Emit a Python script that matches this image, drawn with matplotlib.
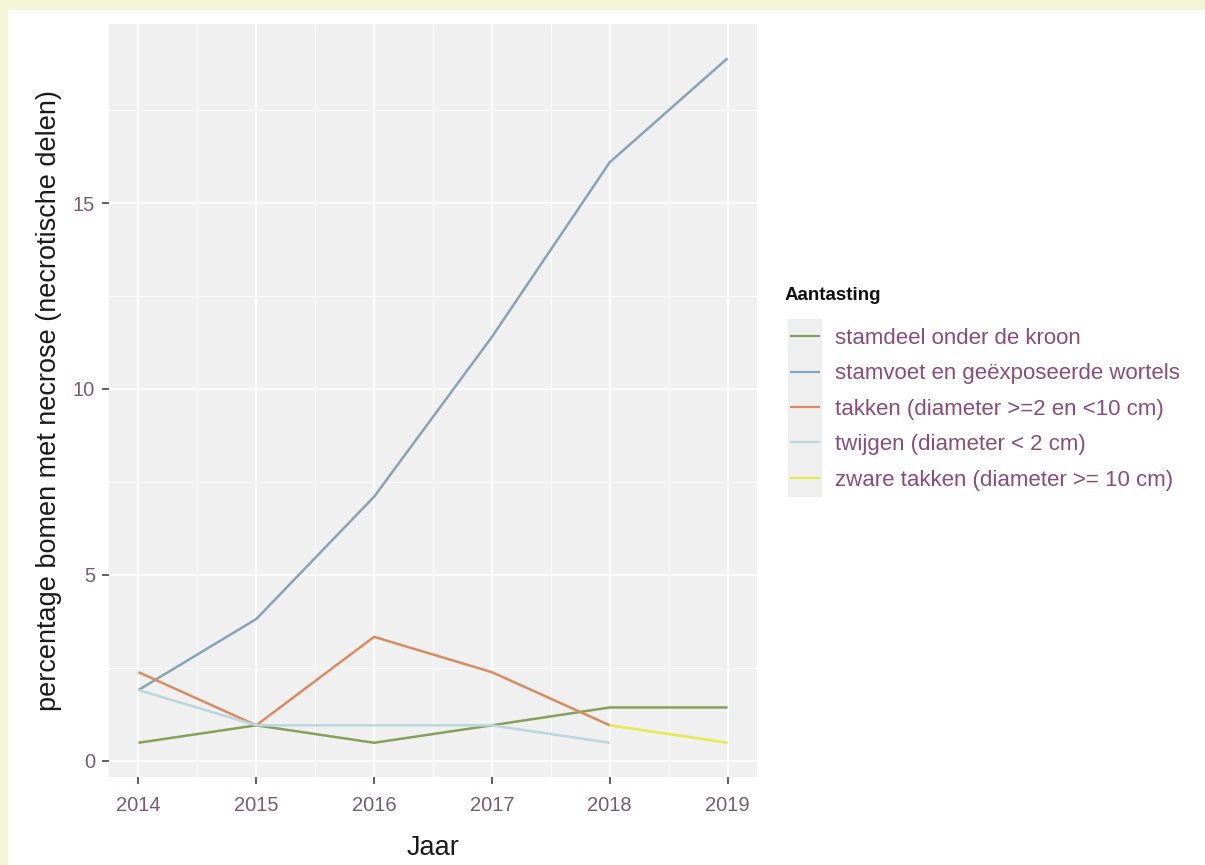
import matplotlib
matplotlib.use("Agg")
import matplotlib.pyplot as plt
from matplotlib.patches import Rectangle
from matplotlib.ticker import MultipleLocator

plt.rcParams['font.family'] = ['Liberation Sans', 'DejaVu Sans']

# Data
series_names = [
    "stamdeel onder de kroon",
    "stamvoet en geëxposeerde wortels",
    "takken (diameter >=2 en <10 cm)",
    "twijgen (diameter < 2 cm)",
    "zware takken (diameter >= 10 cm)",
]
years_stamdeel = [2014, 2015, 2016, 2017, 2018, 2019]
stamdeel = [0.48, 0.95, 0.48, 0.95, 1.43, 1.43]
years_stamvoet = [2014, 2015, 2016, 2017, 2018, 2019]
stamvoet = [1.90, 3.81, 7.10, 11.40, 16.10, 18.90]
years_takken = [2014, 2015, 2016, 2017, 2018]
takken = [2.38, 0.95, 3.33, 2.38, 0.95]
years_twijgen = [2014, 2015, 2016, 2017, 2018]
twijgen = [1.90, 0.95, 0.95, 0.95, 0.48]
years_zware = [2018, 2019]
zware = [0.95, 0.48]

colors = ["#86a05a", "#86a3b8", "#d98b62", "#bad6de", "#e4ea4c"]

W, H = 1205, 865
fig = plt.figure(figsize=(W / 100, H / 100), dpi=100, facecolor="white")

# yellowish frame on top and left
fig.patches.append(Rectangle((0, 1 - 10 / H), 1, 10 / H, transform=fig.transFigure,
                             facecolor="#f2f6d6", edgecolor="none", zorder=0))
fig.patches.append(Rectangle((0, 0), 8 / W, 1, transform=fig.transFigure,
                             facecolor="#f2f6d6", edgecolor="none", zorder=0))

left, right, top, bottom = 109, 757, 24, 777
ax = fig.add_axes([left / W, 1 - bottom / H, (right - left) / W, (bottom - top) / H])
ax.set_facecolor("#f0f0f0")
for s in ax.spines.values():
    s.set_visible(False)

data = [
    (years_stamdeel, stamdeel),
    (years_stamvoet, stamvoet),
    (years_takken, takken),
    (years_twijgen, twijgen),
    (years_zware, zware),
]
handles = []
for (x, y), c, n in zip(data, colors, series_names):
    ln, = ax.plot(x, y, color=c, lw=1.8, label=n, solid_capstyle="butt", zorder=3)
    handles.append(ln)

ax.margins(x=0.05, y=0.05)
ax.xaxis.set_major_locator(MultipleLocator(1))
ax.xaxis.set_minor_locator(MultipleLocator(0.5))
ax.yaxis.set_major_locator(MultipleLocator(5))
ax.yaxis.set_minor_locator(MultipleLocator(2.5))
ax.grid(which="major", color="white", lw=1.3, zorder=0)
ax.grid(which="minor", color="white", lw=0.6, zorder=0)
ax.set_axisbelow(True)

tick_color = "#7d5a70"
ax.tick_params(axis="both", which="major", length=5, width=1.2, color="#444444",
               labelsize=14.5, labelcolor=tick_color, pad=5)
ax.tick_params(axis="x", which="major", pad=9)
ax.tick_params(axis="both", which="minor", length=0)
ax.set_xticks(years_stamvoet)
ax.set_xticklabels([str(y) for y in years_stamvoet])

ax.set_xlabel("Jaar", fontsize=19.5, color="#1a1a1a", labelpad=14)
ax.set_ylabel("percentage bomen met necrose (necrotische delen)", fontsize=19.5,
              color="#1a1a1a", labelpad=8)

# legend key background
fig.patches.append(Rectangle((788 / W, 1 - 497 / H), 34 / W, 178 / H,
                             transform=fig.transFigure, facecolor="#efefef",
                             edgecolor="none", zorder=1))

# legend title
fig.text(785 / W, 1 - 295 / H, "Aantasting", fontsize=13.5, fontweight="bold",
         color="#111111", ha="left", va="center")

leg = fig.legend(handles=handles, loc="upper left",
                 bbox_to_anchor=(781 / W, 1 - 319 / H),
                 frameon=False, fontsize=16,
                 handlelength=1.35, handletextpad=0.68, labelspacing=0.65,
                 borderaxespad=0)
for t in leg.get_texts():
    t.set_color("#8a4c7c")
for h in leg.legend_handles:
    h.set_linewidth(1.6)

fig.savefig("out.png", dpi=100, facecolor="white")
